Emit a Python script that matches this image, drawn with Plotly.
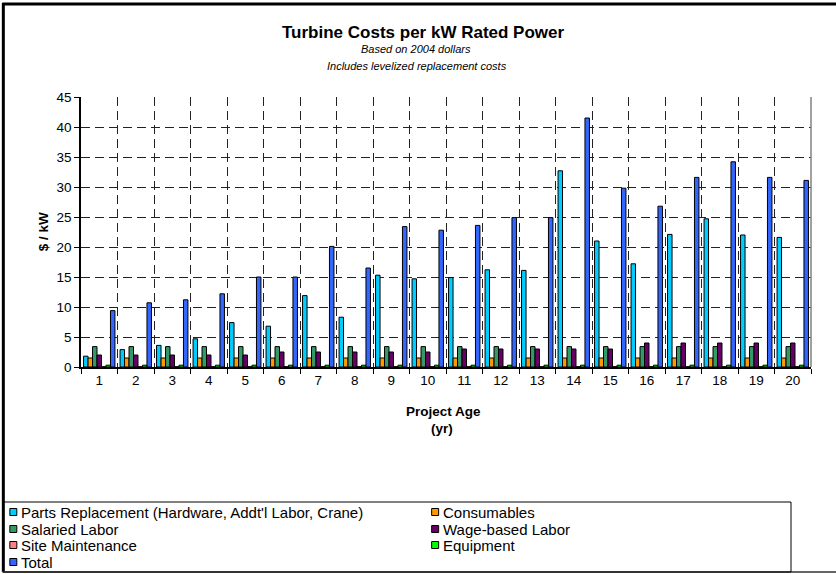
import plotly.graph_objects as go

# Project age (years) on the category axis
ages = [str(a) for a in range(1, 21)]

# Annual cost components, $ per kW of rated power (2004 dollars)
parts_replacement = [1.8, 2.9, 3.6, 4.7, 7.4, 6.8, 11.9, 8.3, 15.3, 14.7,
                     14.9, 16.2, 16.1, 32.7, 21.0, 17.2, 22.1, 24.7, 22.0, 21.6]
consumables = [1.5, 1.5, 1.5, 1.5, 1.5, 1.5, 1.5, 1.5, 1.5, 1.5,
               1.5, 1.5, 1.5, 1.5, 1.5, 1.5, 1.5, 1.5, 1.5, 1.5]
salaried_labor = [3.4, 3.4, 3.4, 3.4, 3.4, 3.4, 3.4, 3.4, 3.4, 3.4,
                  3.4, 3.4, 3.4, 3.4, 3.4, 3.4, 3.4, 3.4, 3.4, 3.4]
wage_labor = [2.0, 2.0, 2.0, 2.0, 2.0, 2.5, 2.5, 2.5, 2.5, 2.5,
              3.0, 3.0, 3.0, 3.0, 3.0, 4.0, 4.0, 4.0, 4.0, 4.0]
site_maintenance = [0.05, 0.05, 0.05, 0.05, 0.05, 0.05, 0.05, 0.05, 0.05, 0.05,
                    0.05, 0.05, 0.05, 0.05, 0.05, 0.05, 0.05, 0.05, 0.05, 0.05]
equipment = [0.3, 0.3, 0.3, 0.3, 0.3, 0.3, 0.3, 0.3, 0.3, 0.3,
             0.3, 0.3, 0.3, 0.3, 0.3, 0.3, 0.3, 0.3, 0.3, 0.3]
total = [9.4, 10.7, 11.2, 12.2, 15.0, 15.0, 20.1, 16.5, 23.4, 22.8,
         23.6, 24.9, 24.9, 41.5, 29.8, 26.8, 31.6, 34.2, 31.6, 31.1]

series_names = [
    "Parts Replacement (Hardware, Addt'l Labor, Crane)",
    "Consumables",
    "Salaried Labor",
    "Wage-based Labor",
    "Site Maintenance",
    "Equipment",
    "Total",
]
series_values = [parts_replacement, consumables, salaried_labor, wage_labor,
                 site_maintenance, equipment, total]
series_colors = ["#00CCFF", "#FF9900", "#339966", "#660066",
                 "#FF8080", "#00FF00", "#3366FF"]

# Page and plot-area geometry (pixels)
W, H = 836, 574
L, R, T, B = 80.7, 811, 97, 367
FONT = "Liberation Sans, Arial, sans-serif"


def px_x(x):
    return (x - L) / (R - L)


def px_y(y):
    return (B - y) / (B - T)


fig = go.Figure()
for name, vals, color in zip(series_names, series_values, series_colors):
    fig.add_trace(go.Bar(
        x=ages, y=vals, name=name,
        marker=dict(color=color, line=dict(color="black", width=1)),
        showlegend=False,
    ))

annotations = [
    dict(text="<b>Turbine Costs per kW Rated Power</b>", x=px_x(423), y=px_y(32),
         font=dict(size=17)),
    dict(text="<i>Based on 2004 dollars</i>", x=px_x(416), y=px_y(49),
         font=dict(size=11)),
    dict(text="<i>Includes levelized replacement costs</i>", x=px_x(417), y=px_y(66),
         font=dict(size=11)),
    dict(text="<b>Project Age</b>", x=px_x(443), y=px_y(411), font=dict(size=13.5)),
    dict(text="<b>(yr)</b>", x=px_x(442), y=px_y(428), font=dict(size=13.5)),
    dict(text="<b>$ / kW</b>", x=px_x(43), y=px_y(232), textangle=-90,
         font=dict(size=13.5)),
]

shapes = [
    # chart frame
    dict(type="line", x0=px_x(3), x1=px_x(3), y0=px_y(3), y1=px_y(572),
         line=dict(color="black", width=3)),
    dict(type="line", x0=px_x(2), x1=px_x(845), y0=px_y(4), y1=px_y(4),
         line=dict(color="black", width=3)),
    dict(type="line", x0=px_x(2), x1=px_x(845), y0=px_y(572), y1=px_y(572),
         line=dict(color="#666666", width=2)),
    # plot-area right edge
    dict(type="line", x0=1, x1=1, y0=0, y1=1,
         line=dict(color="#808080", width=1.5)),
    # legend box
    dict(type="rect", x0=px_x(3), x1=px_x(791), y0=px_y(502), y1=px_y(572),
         line=dict(color="black", width=1)),
]

# Legend entries laid out two per row
col_x = [13, 435]
row_y = [512, 529, 545, 562]
for i, (name, color) in enumerate(zip(series_names, series_colors)):
    cx = col_x[i % 2]
    cy = row_y[i // 2]
    shapes.append(dict(type="rect", x0=px_x(cx - 3.5), x1=px_x(cx + 3.5),
                       y0=px_y(cy - 3.5), y1=px_y(cy + 3.5),
                       fillcolor=color, line=dict(color="black", width=1)))
    annotations.append(dict(text=name, x=px_x(cx + 6), y=px_y(cy), xanchor="left",
                            font=dict(size=15)))

for a in annotations:
    a.setdefault("xref", "paper")
    a.setdefault("yref", "paper")
    a.setdefault("showarrow", False)
    a.setdefault("xanchor", "center")
    a.setdefault("yanchor", "middle")
    a["font"] = dict(family=FONT, color="black", **a["font"])
for s in shapes:
    s.setdefault("xref", "paper")
    s.setdefault("yref", "paper")
    s["layer"] = "above"

fig.update_layout(
    width=W, height=H,
    margin=dict(l=L, r=W - R, t=T, b=H - B, pad=0),
    paper_bgcolor="white", plot_bgcolor="white",
    barmode="group", bargap=0.14, bargroupgap=0,
    font=dict(family=FONT, size=13, color="black"),
    annotations=annotations, shapes=shapes,
)
fig.update_xaxes(
    type="category", tickson="boundaries",
    showline=True, linecolor="black", linewidth=1.5,
    ticks="outside", ticklen=5, tickcolor="black",
    showgrid=True, gridcolor="#222222", gridwidth=1, griddash="9px,5px",
    tickfont=dict(size=13.5),
)
fig.update_yaxes(
    range=[0, 45], dtick=5,
    showline=True, linecolor="black", linewidth=1.5,
    ticks="outside", ticklen=5, tickcolor="black",
    showgrid=True, gridcolor="#222222", gridwidth=1, griddash="9px,5px",
    zeroline=False, tickfont=dict(size=13.5),
)

fig.write_html("out.html")
